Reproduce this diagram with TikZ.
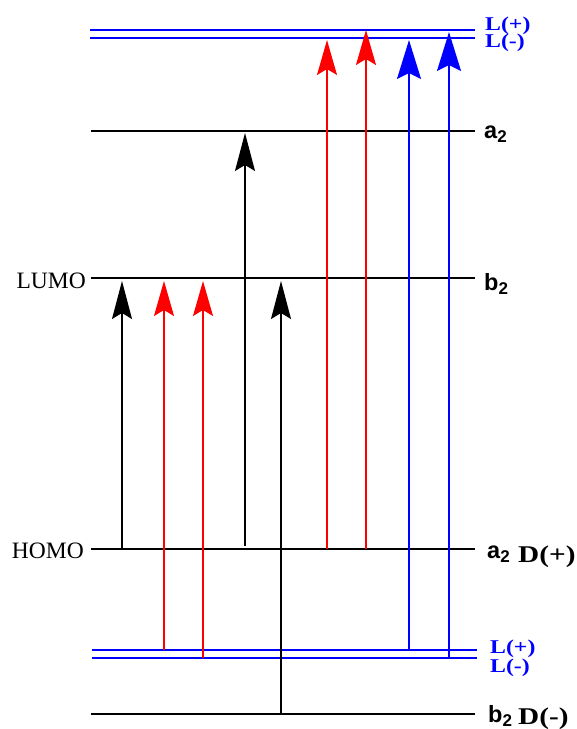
\documentclass[tikz,border=0pt]{standalone}
\usepackage{fontspec}
\setmainfont{Liberation Serif}
\newfontfamily\helvfont{Liberation Sans}
\newfontfamily\wideserif[FakeStretch=1.22]{Liberation Serif}
\usetikzlibrary{arrows.meta, positioning, calc}

\begin{document}
\begin{tikzpicture}[x=1pt, y=-1pt,
        level/.style={line width=2.2pt, black},
        llevel/.style={line width=2.2pt, blue},
        blkarrow/.style={line width=1.3pt, black, -{Stealth[length=38pt, width=20pt, inset=6pt]}},
        redarrow/.style={line width=1.3pt, red, -{Stealth[length=35pt, width=20pt, inset=6pt]}},
        bluearrow/.style={line width=1.6pt, blue, -{Stealth[length=39pt, width=24pt, inset=6pt]}},
        sidename/.style={anchor=base east, inner sep=0pt, font=\fontsize{23.5}{24}\selectfont},
        symname/.style={anchor=base west, inner sep=0pt, font=\helvfont\bfseries\fontsize{23.5}{24}\selectfont},
        dname/.style={anchor=base west, inner sep=0pt, font=\wideserif\bfseries\fontsize{24}{26}\selectfont},
        lname/.style={anchor=base west, inner sep=0pt, blue, font=\wideserif\bfseries\fontsize{19.5}{21}\selectfont}]
    \useasboundingbox (0,0) rectangle (577,729);

    % levels (left ends)
    \coordinate (lpt) at (90,30);
    \coordinate (lmt) at (90,38);
    \coordinate (atop) at (91,131);
    \coordinate (lumo) at (91,278);
    \coordinate (homo) at (91,549);
    \coordinate (lpb) at (92,650);
    \coordinate (lmb) at (92,658);
    \coordinate (bbot) at (91,714);
    \coordinate (rgt) at (475,0);
    \coordinate (rgtb) at (477,0);

    % columns of the arrows
    \coordinate (c1) at (122,0);
    \coordinate (c2) at (164,0);
    \coordinate (c3) at (203,0);
    \coordinate (c4) at (245,0);
    \coordinate (c5) at (281,0);
    \coordinate (c6) at (327,0);
    \coordinate (c7) at (366,0);
    \coordinate (c8) at (409,0);
    \coordinate (c9) at (449,0);

    \draw[llevel] (lpt) -- (lpt -| rgt);
    \draw[llevel] (lmt) -- (lmt -| rgt);
    \draw[level] (atop) -- (atop -| rgt);
    \draw[level] (lumo) -- (lumo -| rgt);
    \draw[level] (homo) -- (homo -| rgt);
    \draw[llevel] (lpb) -- (lpb -| rgtb);
    \draw[llevel] (lmb) -- (lmb -| rgtb);
    \draw[level] (bbot) -- (bbot -| rgt);

    \draw[blkarrow, shorten >=3pt] (c1 |- homo) -- (c1 |- lumo);
    \draw[redarrow, shorten >=3pt] (c2 |- lpb) -- (c2 |- lumo);
    \draw[redarrow, shorten >=3pt] (c3 |- lmb) -- (c3 |- lumo);
    \draw[blkarrow, shorten <=3pt, shorten >=2pt] (c4 |- homo) -- (c4 |- atop);
    \draw[blkarrow, shorten >=3pt] (c5 |- bbot) -- (c5 |- lumo);
    \draw[redarrow, shorten >=2pt] (c6 |- homo) -- (c6 |- lmt);
    \draw[redarrow] (c7 |- homo) -- (c7 |- lpt);
    \draw[bluearrow, shorten >=2pt] (c8 |- lpb) -- (c8 |- lmt);
    \draw[bluearrow, shorten >=2pt] (c9 |- lmb) -- (c9 |- lpt);

    \node[sidename] (lumotxt) at (86,288) {LUMO};
    \node[sidename] (homotxt) at (84,558.5) {HOMO};

    \node[lname] (lpttxt) at (485,30) {L(+)};
    \node[lname] (lmttxt) at (485,47) {L(-)};
    \node[symname] (a2top) at (484,138) {a\raisebox{-4pt}{\fontsize{17}{17}\selectfont 2}};
    \node[symname] (b2mid) at (484,290) {b\raisebox{-4pt}{\fontsize{17}{17}\selectfont 2}};
    \node[symname] (a2low) at (487,558) {a\raisebox{-4pt}{\fontsize{17}{17}\selectfont 2}};
    \node[dname] (dplus) at (518,562) {D(+)};
    \node[lname] (lpbtxt) at (490,653) {L(+)};
    \node[lname] (lmbtxt) at (490,672) {L(-)};
    \node[symname] (b2low) at (488,722) {b\raisebox{-4pt}{\fontsize{17}{17}\selectfont 2}};
    \node[dname] (dminus) at (518,724) {D(-)};
\end{tikzpicture}
\end{document}
